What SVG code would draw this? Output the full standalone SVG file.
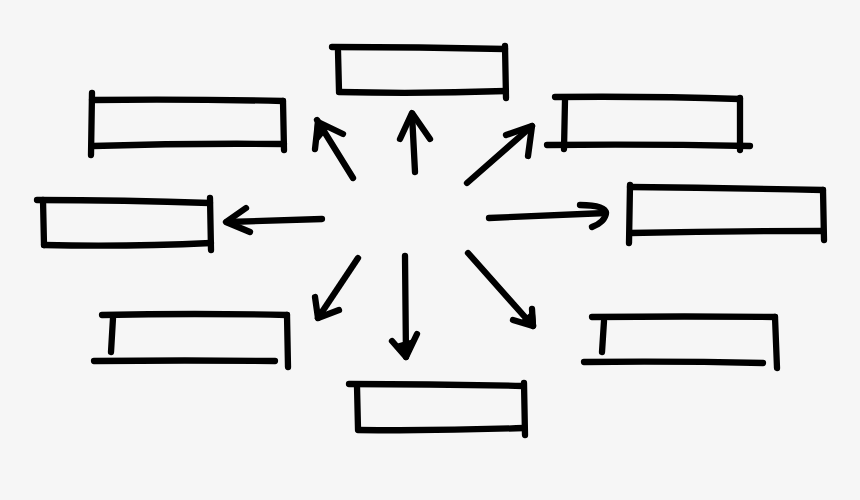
<svg xmlns="http://www.w3.org/2000/svg" width="860" height="500" viewBox="0 0 860 500">
<style>
.s{fill:none;stroke:#000;stroke-width:6.3;stroke-linecap:round;stroke-linejoin:round}
.h{fill:#000;stroke:#000;stroke-width:6.3;stroke-linecap:round;stroke-linejoin:round}
</style>
<rect width="860" height="500" fill="#f6f6f6"/>
<g id="box-top">
<path class="s" d="M332,47 Q420,47 505,49"/>
<path class="s" d="M338,51 L339,91"/>
<path class="s" d="M505,46 L506,98"/>
<path class="s" d="M339,92 Q420,94 506,91"/>
</g>
<g id="box-topleft">
<path class="s" d="M92,100 Q190,99 283,101"/>
<path class="s" d="M92,93 L91,155"/>
<path class="s" d="M283,101 L284,150"/>
<path class="s" d="M93,146 Q190,143 284,144"/>
</g>
<g id="box-topright">
<path class="s" d="M555,97 Q650,96 740,99"/>
<path class="s" d="M565,100 L564,149"/>
<path class="s" d="M740,98 L740,150"/>
<path class="s" d="M547,145 Q650,144 750,146"/>
</g>
<g id="box-left">
<path class="s" d="M37,200 Q125,200 210,203"/>
<path class="s" d="M43,200 L44,245"/>
<path class="s" d="M210,198 L211,250"/>
<path class="s" d="M44,245 Q125,247 211,243"/>
</g>
<g id="box-right">
<path class="s" d="M630,187 Q725,188 823,190"/>
<path class="s" d="M630,185 L629,243"/>
<path class="s" d="M823,190 L824,240"/>
<path class="s" d="M630,233 Q725,231 822,231"/>
</g>
<g id="box-bottomleft">
<path class="s" d="M102,315 Q195,313 287,315"/>
<path class="s" d="M113,318 L111,352"/>
<path class="s" d="M287,315 L288,367"/>
<path class="s" d="M94,361 Q185,360 275,361"/>
</g>
<g id="box-bottom">
<path class="s" d="M349,384 Q435,384 523,386"/>
<path class="s" d="M357,386 L358,429"/>
<path class="s" d="M524,383 L525,435"/>
<path class="s" d="M358,430 Q440,431 524,428"/>
</g>
<g id="box-bottomright">
<path class="s" d="M592,317 Q685,316 775,317"/>
<path class="s" d="M604,321 L602,352"/>
<path class="s" d="M775,317 L777,368"/>
<path class="s" d="M584,362 Q675,361 763,363"/>
</g>
<g id="connectors">
<path class="s" d="M353,178 L317,120"/>
<path class="s" d="M343,134 L318,122 L315,149"/>
<path class="h" d="M318,123 L326,127 L317,138 Z"/>
<path class="s" d="M415,172 L412,114"/>
<path class="s" d="M400,139 L412,113 L430,139"/>
<path class="s" d="M467,183 L532,126"/>
<path class="s" d="M506,135 L532,126 L528,156"/>
<path class="s" d="M322,219 L227,222"/>
<path class="s" d="M246,208 L226,222 L250,232"/>
<path class="s" d="M489,218 L606,213"/>
<path class="s" d="M580,205 Q605,205 606,213 Q605,222 592,227"/>
<path class="s" d="M358,258 L318,318"/>
<path class="s" d="M315,297 L318,318 L339,310"/>
<path class="s" d="M405,256 L406,357"/>
<path class="s" d="M392,341 L406,357 L417,334"/>
<path class="h" d="M400,346 L406,356 L411,343 Z"/>
<path class="s" d="M468,253 L533,326"/>
<path class="s" d="M513,320 L533,326 L532,309"/>
<path class="h" d="M524,322 L533,325 L532,315 Z"/>
</g>
</svg>
